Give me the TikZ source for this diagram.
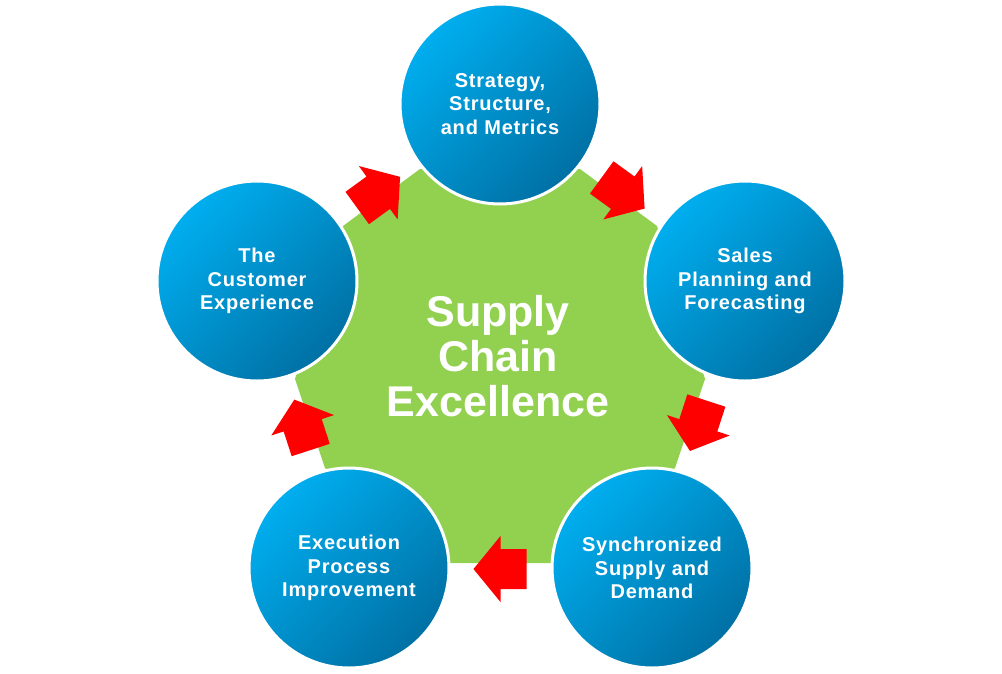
\documentclass[tikz,border=0pt]{standalone}
\usepackage{fontspec}
\setmainfont{Liberation Sans}
\newfontfamily\circfont[LetterSpace=4]{Liberation Sans}
\definecolor{hubgreen}{HTML}{92D050}
\definecolor{arrowred}{HTML}{FF0000}
\definecolor{bluetop}{HTML}{00AEEF}
\definecolor{bluebot}{HTML}{0070A4}
\begin{document}
\begin{tikzpicture}[x=1pt,y=-1pt,
  bubble/.style={circle, minimum size=200pt, inner sep=0pt, draw=white, line width=3pt,
    top color=bluetop, bottom color=bluebot, shading angle=45,
    text=white, font=\circfont\bfseries\fontsize{20}{23.5}\selectfont, align=center},
  hub/.style={text=white, font=\bfseries\fontsize{43}{45}\selectfont, align=center},
  cycarrow/.style={fill=arrowred, draw=none}]
\useasboundingbox (0,0) rectangle (1002,673);
% green hub
\fill[hubgreen] (420,169) -- (580,169) -- (657,226) -- (705,379) -- (675,468) -- (551,563)
  -- (449,563) -- (325,468) -- (295,379) -- (343,226) -- cycle;
% red cycle arrows
\foreach \a in {-126,-54,18,90,162} {
  \begin{scope}[shift={(500.5,361)}, rotate=-\a, xshift=208pt, rotate=-90]
    \fill[cycarrow] (27,0) -- (0,33) -- (0,20) -- (-26,20) -- (-26,-20) -- (0,-20) -- (0,-33) -- cycle;
  \end{scope}
}
\node[hub] (hub) at (498,356) {Supply\\Chain\\Excellence};
% circles
\node[bubble] (strategy) at (500,104) {Strategy,\\Structure,\\and Metrics};
\node[bubble] (sales) at (745,281) {Sales\\Planning and\\Forecasting};
\node[bubble] (sync) at (652,568) {Synchronized\\Supply and\\Demand};
\node[bubble] (exec) at (349,568) {Execution\\Process\\Improvement};
\node[bubble] (customer) at (257,281) {The\\Customer\\Experience};
\end{tikzpicture}
\end{document}
